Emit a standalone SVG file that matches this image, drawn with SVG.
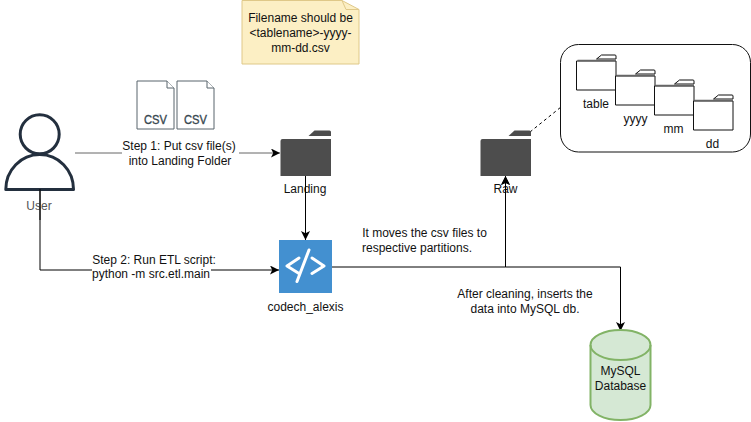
<svg xmlns="http://www.w3.org/2000/svg" width="751" height="422" viewBox="0 0 751 422">
<style>
text{font-family:"Liberation Sans",Arial,sans-serif;font-size:12px;fill:#111;text-anchor:middle}
.conn{fill:none;stroke:#000;stroke-width:1}
.gray{stroke:#666}
.df{fill:#4d4d4d}
.wf{fill:#fff;stroke:#111;stroke-width:1}
.wt{fill:#fff;stroke:#111;stroke-width:1}
.wb{fill:none;stroke:#666;stroke-width:1.5}
.doc{fill:#fff;stroke:#59646c;stroke-width:1}
.csv{font-size:13px;fill:#37474f;stroke:#37474f;stroke-width:.35}
</style>
<defs>
<marker id="a" markerWidth="10" markerHeight="10" refX="9" refY="4.500" orient="auto" markerUnits="userSpaceOnUse"><path d="M0 0L9 4.500L0 9L2.200 4.500Z" fill="#000"/></marker>
<g id="wfolder">
<path class="wt" d="M20 6L25 2H38.500Q39.500 2 39.500 3V6Z"/>
<path class="wf" d="M0 8H39.500V37H0Z"/>
<path class="wb" d="M1 7.500H39.500"/>
</g>
<g id="dfolder">
<path class="df" d="M28 6L34 0.500H49Q50.500 .5 50.500 2V6Z"/>
<path class="df" d="M2 9H50.500V46H0V11Q0 9 2 9Z"/>
</g>
<g id="csvdoc">
<path class="doc" d="M0 0H30L37 7V48H0Z"/>
<path class="doc" d="M30 0V7H37"/>
</g>
</defs>
<g id="connectors">
<path class="conn gray" d="M75 153H122"/>
<path class="conn gray" d="M239 153H280" marker-end="url(#a)"/>
<path class="conn" d="M40 189V270H92"/>
<path class="conn" d="M211 270H279" marker-end="url(#a)"/>
<path class="conn" d="M305.500 176V240" marker-end="url(#a)"/>
<path class="conn" d="M332 267H505.500V176" marker-end="url(#a)"/>
<path class="conn" d="M505.500 267H620.500V331" marker-end="url(#a)"/>
<path class="conn" d="M530 132L561 107" stroke-dasharray="3 3"/>
</g>
<g id="user">
<circle cx="39.700" cy="134.300" r="19.500" fill="#fff" stroke="#232f3e" stroke-width="3"/>
<path d="M5.800 189.500C5.800 170 21 154.500 39.700 154.500C58.500 154.500 73.500 170 73.500 189.500Z" fill="#fff" stroke="#232f3e" stroke-width="3" stroke-linejoin="round"/>
<text x="39" y="210" style="fill:#555">User</text>
<path d="M40 189V220" stroke="#000" fill="none"/>
</g>
<g id="csv1">
<use href="#csvdoc" x="137" y="81"/>
<text class="csv" x="155.500" y="124" textLength="23" lengthAdjust="spacingAndGlyphs">CSV</text>
</g>
<g id="csv2">
<use href="#csvdoc" x="177" y="81"/>
<text class="csv" x="195.500" y="124" textLength="23" lengthAdjust="spacingAndGlyphs">CSV</text>
</g>
<g id="step1"><text x="179" y="150">Step 1: Put csv file(s)</text><text x="180" y="165">into Landing Folder</text></g>
<g id="note">
<path d="M242 0.500H342L359 9.500V64H242Z" fill="#fcefc4" stroke="#dfc888"/>
<path d="M342 0.500L346 9.500H359" fill="none" stroke="#dfc888"/>
<text x="300.500" y="22">Filename should be</text>
<text x="300.500" y="37">&lt;tablename&gt;-yyyy-</text>
<text x="300.500" y="52">mm-dd.csv</text>
</g>
<g id="landing">
<use href="#dfolder" x="280.500" y="130"/>
<text x="305" y="193">Landing</text>
<path class="conn" d="M305.500 176V200"/>
</g>
<g id="raw">
<use href="#dfolder" x="480.500" y="130"/>
<text x="505.500" y="193">Raw</text>
<path class="conn" d="M505.500 176V205"/>
<path d="M505.500 176L510 185L505.500 183L501 185Z" fill="#000"/>
</g>
<g id="partitions">
<rect x="560.500" y="44.500" width="190" height="107.500" rx="18" fill="#fff" stroke="#111"/>
<use href="#wfolder" x="576.500" y="53"/>
<use href="#wfolder" x="615.500" y="68"/>
<use href="#wfolder" x="654.500" y="78"/>
<use href="#wfolder" x="693.500" y="93"/>
<text x="596" y="108">table</text>
<text x="635.500" y="123">yyyy</text>
<text x="673.500" y="133">mm</text>
<text x="712.500" y="148">dd</text>
</g>
<g id="codech_alexis">
<rect x="279" y="240" width="53" height="53" fill="#4390d0"/>
<path d="M299 258L287 266L299 273.500M312 258L324 266L312 273.500M309 250L297 281.500" fill="none" stroke="#fff" stroke-width="3" stroke-linecap="round" stroke-linejoin="round"/>
<text x="305.500" y="311">codech_alexis</text>
</g>
<g id="step2"><text x="154" y="264">Step 2: Run ETL script:</text><text x="151" y="278">python -m src.etl.main</text></g>
<g id="moves"><text x="424.500" y="237">It moves the csv files to</text><text x="417" y="252">respective partitions.</text></g>
<g id="cleaning"><text x="525" y="298">After cleaning, inserts the</text><text x="525" y="313">data into MySQL db.</text></g>
<g id="mysql">
<path d="M590.500 345A30 15 0 0 1 650.500 345V405A30 15 0 0 1 590.500 405Z" fill="#d5e8d4" stroke="#82b366" stroke-width="2"/>
<path d="M590.500 345A30 15 0 0 0 650.500 345" fill="none" stroke="#82b366" stroke-width="2"/>
<text x="620.500" y="375">MySQL</text>
<text x="620.500" y="390">Database</text>
</g>
</svg>
